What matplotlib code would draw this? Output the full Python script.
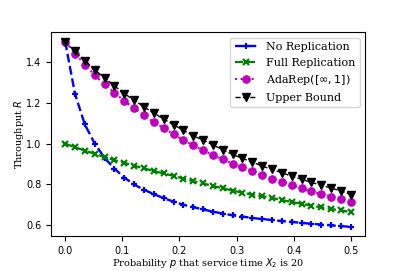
import numpy as np
import matplotlib
matplotlib.use("Agg")
import matplotlib.pyplot as plt

plt.rcParams["font.family"] = "DejaVu Serif"
plt.rcParams["mathtext.fontset"] = "dejavusans"
plt.rcParams["font.size"] = 7

# probability p, 30 evenly spaced points from 0 to 0.5
p = np.linspace(0, 0.5, 30)

no_rep = [1.5, 1.243, 1.094, 1.0, 0.93, 0.878, 0.834, 0.80, 0.774, 0.753,
          0.733, 0.716, 0.701, 0.689, 0.678, 0.667, 0.658, 0.649, 0.643, 0.636,
          0.631, 0.626, 0.621, 0.617, 0.612, 0.608, 0.604, 0.600, 0.596, 0.593]
full_rep = [1.0, 0.982, 0.966, 0.95, 0.934, 0.919, 0.906, 0.892, 0.879, 0.866,
            0.854, 0.842, 0.829, 0.816, 0.805, 0.793, 0.781, 0.770, 0.760, 0.750,
            0.743, 0.734, 0.724, 0.714, 0.706, 0.696, 0.688, 0.680, 0.673, 0.665]
adarep = [1.5, 1.441, 1.387, 1.335, 1.29, 1.25, 1.209, 1.174, 1.138, 1.106,
          1.076, 1.046, 1.017, 0.991, 0.967, 0.944, 0.923, 0.902, 0.884, 0.865,
          0.845, 0.829, 0.813, 0.797, 0.781, 0.767, 0.754, 0.74, 0.727, 0.713]
upper = [1.5, 1.452, 1.405, 1.361, 1.322, 1.283, 1.245, 1.213, 1.18, 1.15,
         1.12, 1.093, 1.065, 1.039, 1.017, 0.994, 0.97, 0.947, 0.928, 0.91,
         0.89, 0.874, 0.858, 0.84, 0.826, 0.81, 0.797, 0.782, 0.769, 0.751]

fig, ax = plt.subplots(figsize=(4.07, 2.71), dpi=100)
fig.subplots_adjust(left=0.125, right=0.897, top=0.881, bottom=0.129)

ax.plot(p, no_rep, "b--", marker="+", ms=5, mew=1.6, lw=1.7, label="No Replication")
ax.plot(p, full_rep, "g--", marker="x", ms=4.5, mew=1.6, lw=1.6, label="Full Replication")
ax.plot(p, adarep, "m:", marker="o", ms=5.2, lw=1.5, label=r"AdaRep$([\infty, 1])$")
ax.plot(p, upper, "k--", marker="v", ms=5.2, lw=1.0, label="Upper Bound")

ax.set_xlabel(r"Probability $p$ that service time $X_2$ is 20", labelpad=0)
ax.set_ylabel(r"Throughput $R$", labelpad=-0.5)
ax.tick_params(labelsize=7)
for lab in ax.get_xticklabels() + ax.get_yticklabels():
    lab.set_family("DejaVu Sans")
ax.legend(loc="upper right", fontsize=8)

fig.savefig("out.png")
